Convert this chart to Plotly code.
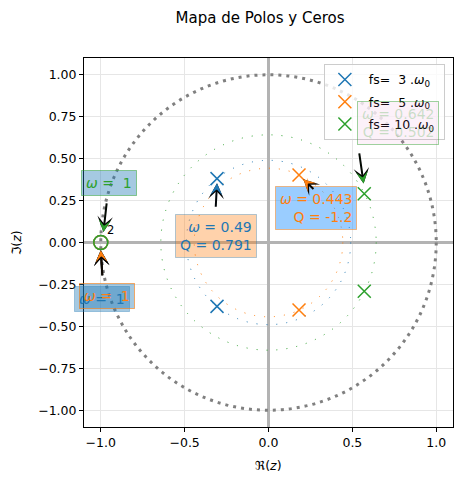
import plotly.graph_objects as go

# frecuencias de muestreo (en multiplos de w0)
fs_list = [3, 5, 10]
pole_re = [-0.307, 0.182, 0.571]
pole_im = [0.381, 0.403, 0.291]
omega = [0.49, 0.443, 0.642]
Q = ["0.791", "-1.2", "0.502"]
zero_re = [-1.0, -1.0, -1.0]
zero_im = [0.0, 0.0, 0.0]
zero_w = [1, 1, 1]
zero_order = 2

colors = ["#1f77b4", "#ff7f0e", "#2ca02c"]

# cajas de texto de los polos (offset respecto al polo) y sus estilos
box_off = [(-0.007, -0.343), (0.103, -0.198), (0.203, 0.423)]
box_bg = ["rgba(255,127,14,0.35)", "rgba(30,144,255,0.45)", "rgba(227,119,194,0.1)"]
box_border = ["rgba(31,119,180,0.35)", "rgba(255,127,14,0.5)", "rgba(44,160,44,0.45)"]
box_font = ["#1f77b4", "#ff7f0e", "rgba(44,160,44,0.25)"]
arrow_tail = [(-0.008, -0.177), (0.095, -0.092), (-0.031, 0.249)]
arrow_tip = [(0.0, -0.028), (0.026, -0.026), (-0.004, 0.061)]

# cajas de los ceros
zbox_off = [(0.009, -0.338), (0.036, -0.317), (0.048, 0.354)]
zbox_bg = ["rgba(31,119,180,0.4)", "rgba(31,119,180,0.4)", "rgba(31,119,180,0.4)"]
zbox_border = ["rgba(31,119,180,0.35)", "rgba(255,127,14,0.6)", "rgba(44,160,44,0.5)"]
zarrow_tail = [(0.01, -0.205), (0.01, -0.205), (0.036, 0.242)]
zarrow_tip = [(0.0, -0.046), (0.0, -0.046), (0.016, 0.063)]

fig = go.Figure()

# circulo unitario
fig.add_shape(type="circle", xref="x", yref="y", x0=-1, y0=-1, x1=1, y1=1,
              line=dict(color="grey", width=3, dash="3px,5px"), layer="between")
# circulos de radio w
for w, c in zip(omega, colors):
    fig.add_shape(type="circle", xref="x", yref="y", x0=-w, y0=-w, x1=w, y1=w,
                  line=dict(color=c, width=1, dash="1px,9px"), layer="between")

for i, fs in enumerate(fs_list):
    c = colors[i]
    fig.add_trace(go.Scatter(
        x=[pole_re[i], pole_re[i]], y=[pole_im[i], -pole_im[i]], mode="markers",
        legendgroup="g%d" % i,
        marker=dict(symbol="x-thin-open", size=13, color=c, line=dict(color=c, width=1.5)),
        name="\u00a0fs=\u00a0" + ("\u00a0" if fs < 10 else "") + str(fs)
             + " .<i>ω</i><sub>0</sub>\u00a0"))
    fig.add_trace(go.Scatter(
        x=[zero_re[i]], y=[zero_im[i]], mode="markers", showlegend=False,
        legendgroup="g%d" % i,
        marker=dict(symbol="circle-open", size=14, color=c, line=dict(color=c, width=1.5))))


def arrow(ann, tx, ty, hx, hy, c):
    # cuerpo negro y cabeza de color encima
    ann.append(dict(x=hx, y=hy, ax=tx, ay=ty, xref="x", yref="y", axref="x", ayref="y",
                    text="", showarrow=True, arrowhead=3, arrowsize=1.3, arrowwidth=2,
                    arrowcolor="black"))
    ann.append(dict(x=hx, y=hy, ax=tx, ay=ty, xref="x", yref="y", axref="x", ayref="y",
                    text="", showarrow=True, arrowhead=3, arrowsize=20, arrowwidth=0.1,
                    arrowcolor=c))


ann = []
for i in range(3):
    px0, py0 = pole_re[i], pole_im[i]
    ann.append(dict(x=px0 + box_off[i][0], y=py0 + box_off[i][1], xref="x", yref="y",
                    text="<i>ω</i> = %s<br>Q = %s" % (omega[i], Q[i]), showarrow=False,
                    align="right", font=dict(color=box_font[i], size=14),
                    bgcolor=box_bg[i], bordercolor=box_border[i], borderwidth=1, borderpad=4))
    arrow(ann, px0 + arrow_tail[i][0], py0 + arrow_tail[i][1],
          px0 + arrow_tip[i][0], py0 + arrow_tip[i][1], colors[i])

for i in range(3):
    zx, zy = zero_re[i], zero_im[i]
    ann.append(dict(x=zx + zbox_off[i][0], y=zy + zbox_off[i][1], xref="x", yref="y",
                    text="<i>ω</i> =\u00a0\u00a0%d" % zero_w[i], showarrow=False,
                    font=dict(color=colors[i], size=14),
                    bgcolor=zbox_bg[i], bordercolor=zbox_border[i], borderwidth=1, borderpad=4))
    arrow(ann, zx + zarrow_tail[i][0], zy + zarrow_tail[i][1],
          zx + zarrow_tip[i][0], zy + zarrow_tip[i][1], colors[i])

# orden del cero
ann.append(dict(x=zero_re[2] + 0.055, y=zero_im[2] + 0.073, xref="x", yref="y",
                text=str(zero_order), showarrow=False, font=dict(color="black", size=11.5)))

# etiquetas de ejes
ann.append(dict(x=0.5, y=-0.103, xref="paper", yref="paper", text="ℜ(<i>z</i>)",
                xanchor="center", yanchor="middle",
                showarrow=False, font=dict(size=12.5, color="black")))
ann.append(dict(x=-0.182, y=0.5, xref="paper", yref="paper", text="ℑ(<i>z</i>)",
                xanchor="center", yanchor="middle",
                showarrow=False, textangle=-90, font=dict(size=12.5, color="black")))

axis_style = dict(range=[-1.1, 1.1], showgrid=True, gridcolor="#e6e6e6", gridwidth=1,
                  zeroline=True, zerolinecolor="#b3b3b3", zerolinewidth=2.5,
                  showline=True, linecolor="black", linewidth=1, mirror=True,
                  ticks="outside", ticklen=4, tickcolor="black",
                  tickfont=dict(size=12.5, color="black"))

fig.update_xaxes(**axis_style, tickvals=[-1.0, -0.5, 0.0, 0.5, 1.0],
                 ticktext=["\u22121.0", "\u22120.5", "0.0", "0.5", "1.0"])
fig.update_yaxes(**axis_style, tickvals=[-1.0, -0.75, -0.5, -0.25, 0.0, 0.25, 0.5, 0.75, 1.0],
                 ticktext=["\u22121.00", "\u22120.75", "\u22120.50", "\u22120.25", "0.00",
                           "0.25", "0.50", "0.75", "1.00"])

fig.update_layout(
    width=455, height=474,
    margin=dict(l=76, r=10, t=50, b=55),
    paper_bgcolor="white", plot_bgcolor="white",
    font=dict(family="DejaVu Sans", color="black"),
    title=dict(text="Mapa de Polos y Ceros", x=0.477, xref="paper", xanchor="center",
               y=0.979, yref="container", yanchor="middle", font=dict(size=15)),
    legend=dict(x=0.978, y=0.984, xanchor="right", yanchor="top",
                bgcolor="rgba(255,255,255,0.8)", bordercolor="#cccccc", borderwidth=1,
                font=dict(size=12.5), traceorder="grouped", tracegroupgap=3),
    annotations=ann,
)

fig.write_html("out.html")
